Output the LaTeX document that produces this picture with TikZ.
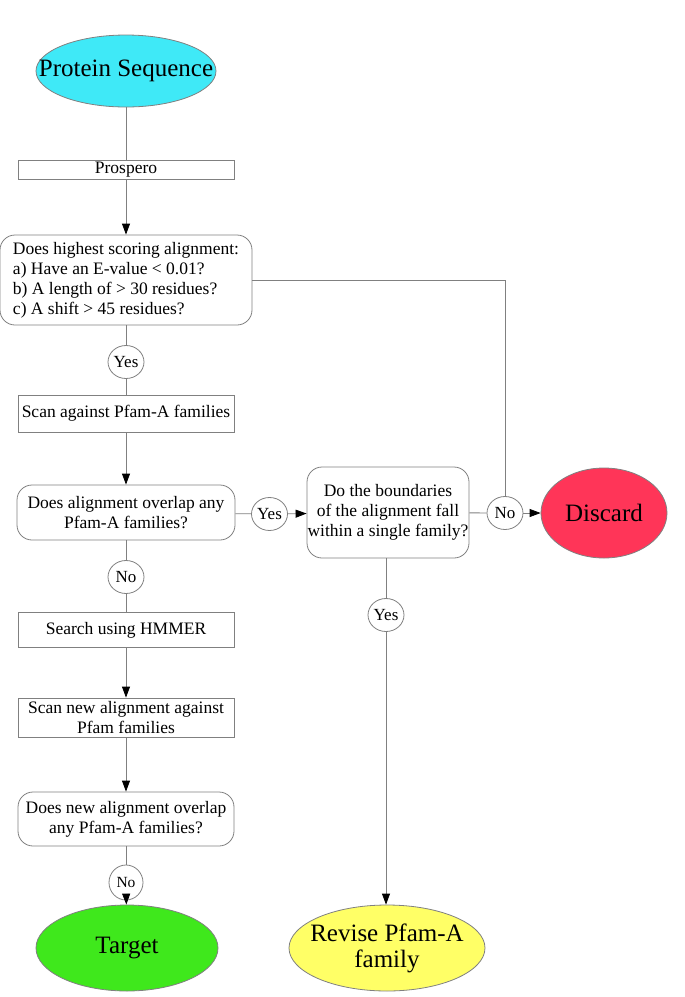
\documentclass[tikz,border=0pt]{standalone}
\usepackage{fontspec}
\setmainfont{Liberation Serif}
\usetikzlibrary{shapes.geometric,arrows.meta}
\definecolor{pscol}{HTML}{3FE9F7}
\definecolor{discol}{HTML}{FF3558}
\definecolor{tgtcol}{HTML}{3FE81C}
\definecolor{revcol}{HTML}{FFFF66}
\definecolor{lncol}{HTML}{808080}
\begin{document}
\begin{tikzpicture}[x=1pt,y=-1pt,
  conn/.style={draw=lncol,line width=0.8pt},
  arr/.style={conn,-{Triangle[length=11pt,width=8pt,color=black]}},
  bigell/.style={ellipse,draw=lncol,line width=0.8pt,inner sep=0pt},
  bigtxt/.style={inner sep=0pt,font=\fontsize{25}{26}\selectfont,align=center},
  procbox/.style={rectangle,draw=lncol,line width=0.8pt,minimum width=216pt,inner sep=0pt,font=\fontsize{17.5}{20}\selectfont,align=center},
  decbox/.style={rectangle,rounded corners=15pt,draw=lncol,line width=0.8pt,inner sep=0pt,font=\fontsize{17.5}{20}\selectfont,align=center},
  lab/.style={ellipse,draw=lncol,line width=0.8pt,fill=white,inner sep=0pt,minimum width=36pt,minimum height=33pt,font=\fontsize{17}{19}\selectfont}
]
\useasboundingbox (0,0) rectangle (685,997);
% nodes
\node[bigell,fill=pscol,minimum width=180pt,minimum height=72pt] (ps) at (126,71) {};
\node[bigtxt] (pst) at (ps) {Protein Sequence};
\node[procbox,minimum height=19pt] (pros) at (126,169.5) {Prospero};
\node[decbox,minimum width=252pt,minimum height=90pt,align=left] (d1) at (126,280) {Does highest scoring alignment:\\a) Have an E-value < 0.01?\\b) A length of > 30 residues?\\c) A shift > 45 residues?};
\node[lab] (y1) at (126,362) {Yes};
\node[procbox,minimum height=37pt] (scan) at (126,413.5) {Scan against Pfam-A families};
\node[decbox,minimum width=218pt,minimum height=55pt] (d2) at (126,512.5) {Does alignment overlap any\\Pfam-A families?};
\node[lab] (y2) at (269.5,514) {Yes};
\node[decbox,minimum width=162pt,minimum height=91pt] (d3) at (388,512.5) {Do the boundaries\\of the alignment fall\\within a single family?};
\node[lab] (n1) at (505,513) {No};
\node[bigell,fill=discol,minimum width=126pt,minimum height=90pt] (dis) at (604,513) {};
\node[bigtxt] (dist) at (dis) {Discard};
\node[lab] (n2) at (126,577) {No};
\node[procbox,minimum height=35pt] (hmm) at (126,630) {Search using HMMER};
\node[lab] (y3) at (386,615) {Yes};
\node[procbox,minimum height=39pt] (scan2) at (126,717.5) {Scan new alignment against\\Pfam families};
\node[decbox,minimum width=216pt,minimum height=54pt] (d4) at (126,819) {Does new alignment overlap\\any Pfam-A families?};
\node[lab,minimum width=34pt,minimum height=35pt,font=\fontsize{15.5}{17}\selectfont] (n3) at (126,882.5) {No};
\node[bigell,fill=tgtcol,minimum width=182pt,minimum height=86pt] (tgt) at (127,948) {};
\node[bigtxt] (tgtt) at (tgt) {Target};
\node[bigell,fill=revcol,minimum width=196pt,minimum height=86pt] (rev) at (387,948) {};
\node[bigtxt] (revt) at (rev) {Revise Pfam-A\\family};
% connectors
\draw[conn] (ps) -- (pros);
\draw[arr] (pros) -- (d1);
\draw[conn] (d1.east) -| (n1.north);
\draw[conn] (d1) -- (y1);
\draw[conn] (y1) -- (scan);
\draw[arr] (scan) -- (d2);
\draw[conn] (d2) -- (y2);
\draw[arr] (y2) -- (d3);
\draw[conn] (d3) -- (n1);
\draw[arr] (n1) -- (dis);
\draw[conn] (d2) -- (n2);
\draw[conn] (n2) -- (hmm);
\draw[arr] (hmm) -- (scan2);
\draw[arr] (scan2) -- (d4);
\draw[conn] (d4) -- (n3);
\draw[arr] (n3) -- (tgt);
\draw[conn] (d3.south -| y3) -- (y3);
\draw[arr] (y3) -- (y3 |- rev.north);
\end{tikzpicture}
\end{document}
